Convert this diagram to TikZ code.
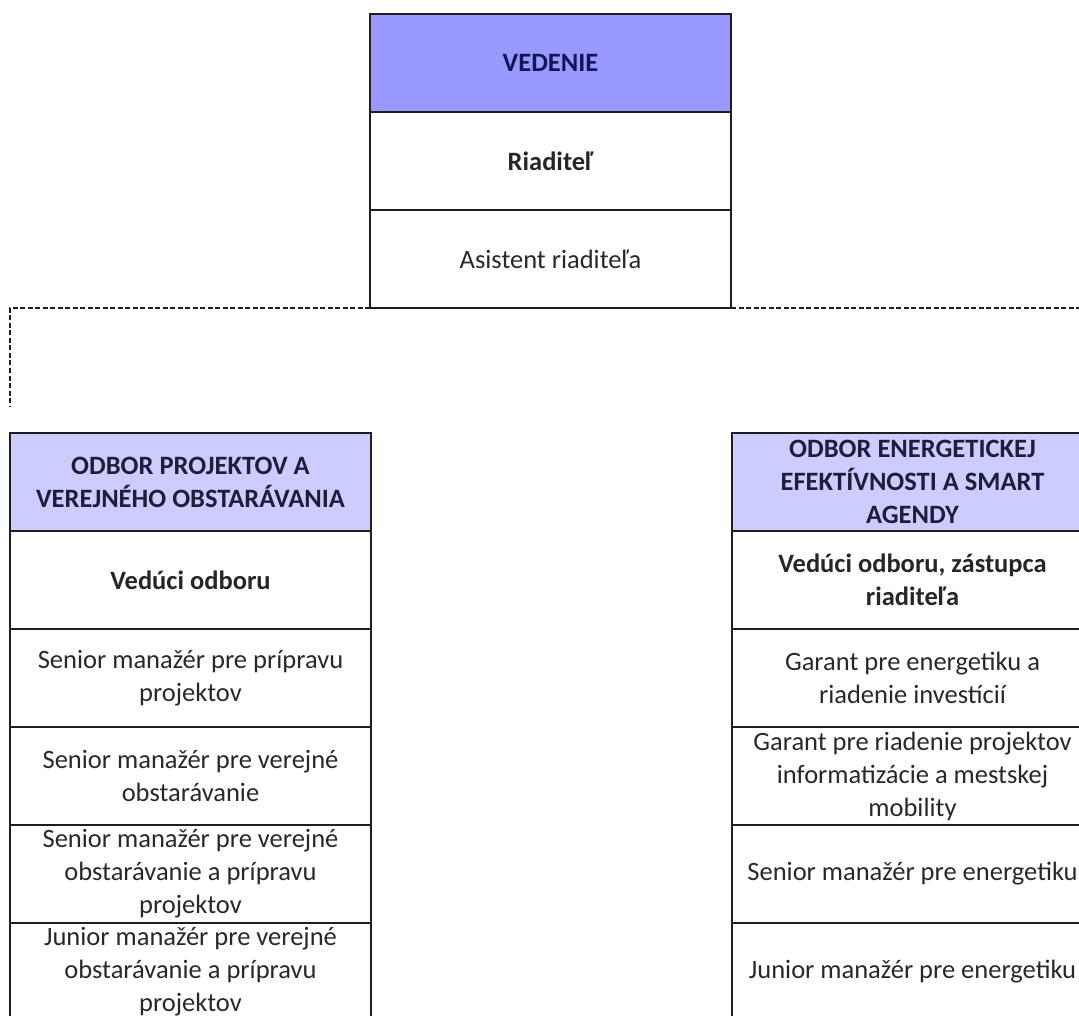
\documentclass[tikz,border=0pt]{standalone}
\usepackage{fontspec}
\setmainfont{Carlito}
\usetikzlibrary{positioning}
\definecolor{topblue}{RGB}{153,153,255}
\definecolor{deptblue}{RGB}{204,204,255}
\definecolor{navytext}{RGB}{20,20,90}
\definecolor{headtext}{RGB}{30,30,60}
\definecolor{celltext}{RGB}{40,40,40}
\definecolor{rule}{RGB}{30,30,30}

\begin{document}
\begin{tikzpicture}[x=1pt,y=-1pt,
    cell/.style={draw=rule,line width=1.6pt,rectangle,minimum width=361pt,minimum height=98pt,
      inner sep=0pt,outer sep=0pt,align=center,text=celltext,font=\fontsize{26.5}{33}\selectfont},
    boss/.style={cell,text=black!85,font=\fontsize{26.5}{33}\selectfont\bfseries},
    head/.style={cell,fill=deptblue,text=headtext,font=\fontsize{26.5}{33}\selectfont\bfseries},
    conn/.style={draw=rule,line width=1.9pt,dash pattern=on 5pt off 2.5pt}]
  \useasboundingbox (0,0) rectangle (1079,1016);
  \clip (0,0) rectangle (1079,1016);

  \node[head,fill=topblue,text=navytext] (vedenie) at (550.5,63) {VEDENIE};
  \node[boss,below=0pt of vedenie] (riaditel) {Riaditeľ};
  \node[cell,below=0pt of riaditel] (asistent) {Asistent riaditeľa};

  \node[head] (projHead) at (190.5,482) {ODBOR PROJEKTOV A\\VEREJNÉHO OBSTARÁVANIA};
  \node[boss,below=0pt of projHead] (projVeduci) {Vedúci odboru};
  \node[cell,below=0pt of projVeduci] (projPriprava) {Senior manažér pre prípravu\\projektov};
  \node[cell,below=0pt of projPriprava] (projObstar) {Senior manažér pre verejné\\obstarávanie};
  \node[cell,below=0pt of projObstar] (projSenior) {Senior manažér pre verejné\\obstarávanie a prípravu\\projektov};
  \node[cell,below=0pt of projSenior] (projJunior) {Junior manažér pre verejné\\obstarávanie a prípravu\\projektov};

  \node[head] (enHead) at (912.5,482) {ODBOR ENERGETICKEJ\\EFEKTÍVNOSTI A SMART\\AGENDY};
  \node[boss,below=0pt of enHead] (enVeduci) {Vedúci odboru, zástupca\\riaditeľa};
  \node[cell,below=0pt of enVeduci] (enGarant) {Garant pre energetiku a\\riadenie investícií};
  \node[cell,below=0pt of enGarant] (enMobil) {Garant pre riadenie projektov\\informatizácie a mestskej\\mobility};
  \node[cell,below=0pt of enMobil] (enSenior) {Senior manažér pre energetiku};
  \node[cell,below=0pt of enSenior] (enJunior) {Junior manažér pre energetiku};

  \coordinate (leftDrop) at (10,407);
  \coordinate (rightDrop) at (1093,407);
  \draw[conn] (asistent.south west) -| (leftDrop);
  \draw[conn] (asistent.south east) -| (rightDrop);
\end{tikzpicture}
\end{document}
